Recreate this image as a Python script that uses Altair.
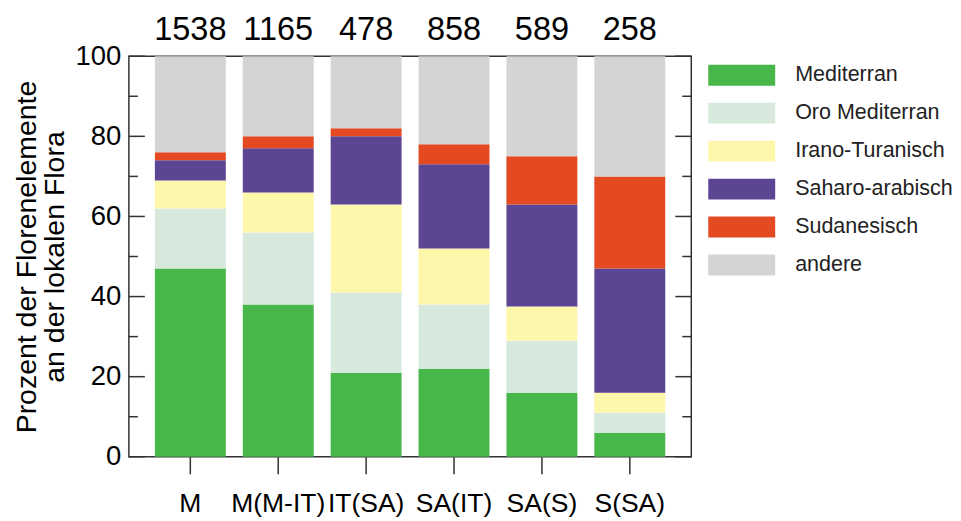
import altair as alt
import pandas as pd

# ---- data ----
groups = ["M", "M(M-IT)", "IT(SA)", "SA(IT)", "SA(S)", "S(SA)"]
counts = [1538, 1165, 478, 858, 589, 258]
elements = ["Mediterran", "Oro Mediterran", "Irano-Turanisch",
            "Saharo-arabisch", "Sudanesisch", "andere"]
colors = ["#48b74a", "#d6e9dc", "#fdf7ab", "#5c4593", "#e34a22", "#d4d4d4"]

mediterran = [47, 38, 21, 22, 16, 6]
oro_mediterran = [15, 18, 20, 16, 13, 5]
irano_turanisch = [7, 10, 22, 14, 8.5, 5]
saharo_arabisch = [5, 11, 17, 21, 25.5, 31]
sudanesisch = [2, 3, 2, 5, 12, 23]
andere = [24, 20, 18, 22, 25, 30]

y_major = [0, 20, 40, 60, 80, 100]
y_minor = [10, 30, 50, 70, 90]

series = [mediterran, oro_mediterran, irano_turanisch,
          saharo_arabisch, sudanesisch, andere]

rows = []
for k, (name, vals) in enumerate(zip(elements, series)):
    for g, v in zip(groups, vals):
        rows.append({"group": g, "element": name, "value": v, "order": k})
df = pd.DataFrame(rows)
df_counts = pd.DataFrame({"group": groups, "n": counts})
df_major = pd.DataFrame({"value": y_major})
df_minor = pd.DataFrame({"value": y_minor})
df_leg = pd.DataFrame({"element": elements})

FONT = "Liberation Sans"
W, H = 563, 401
AX = "#333333"

color_scale = alt.Scale(domain=elements, range=colors)
x_enc = alt.X(
    "group:N", sort=groups,
    scale=alt.Scale(paddingInner=0.193, paddingOuter=0.296),
    axis=alt.Axis(title=None, labelAngle=0, domain=False, ticks=True,
                  tickSize=17, tickColor=AX, tickWidth=1.5,
                  labelFontSize=26.5, labelColor="black", labelPadding=17,
                  labelFont=FONT),
)

y_axis = alt.Axis(values=y_major, ticks=False, domain=False, grid=False,
                  labelFontSize=27.5, labelColor="black", labelPadding=8,
                  labelFont=FONT,
                  title=["Prozent der Florenelemente", "an der lokalen Flora"],
                  titleFontSize=28.5, titleFontWeight="normal",
                  titleColor="black", titleFont=FONT,
                  titleLineHeight=28, titlePadding=6)
y_scale = alt.Scale(domain=[0, 100], nice=False)

bars = alt.Chart(df).mark_bar().encode(
    x=x_enc,
    y=alt.Y("value:Q", stack="zero", scale=y_scale, axis=y_axis),
    color=alt.Color("element:N", scale=color_scale, legend=None),
    order=alt.Order("order:Q", sort="ascending"),
)

top_text = alt.Chart(df_counts).mark_text(
    fontSize=32.5, dy=-26, font=FONT, color="black"
).encode(
    x=alt.X("group:N", sort=groups),
    y=alt.datum(100, scale=y_scale, axis=y_axis),
    text="n:Q",
)

def tick_layer(data, length, side):
    if side == "left":
        xa, xb = 0, length
    else:
        xa, xb = W - length, W
    return alt.Chart(data).mark_rule(color=AX, strokeWidth=1.5).encode(
        y=alt.Y("value:Q", scale=y_scale, axis=y_axis),
        x=alt.value(xa), x2=alt.value(xb),
    )

main = alt.layer(
    bars, top_text,
    tick_layer(df_major, 16, "left"), tick_layer(df_minor, 9, "left"),
    tick_layer(df_major, 16, "right"), tick_layer(df_minor, 9, "right"),
).properties(width=W, height=H,
             view=alt.ViewBackground(stroke=AX, strokeWidth=1.5))

leg_y = alt.Y("element:N", sort=elements, axis=None,
              scale=alt.Scale(paddingInner=0.45, paddingOuter=0.225))
leg_rect = alt.Chart(df_leg).mark_rect().encode(
    y=leg_y, x=alt.value(0), x2=alt.value(67),
    color=alt.Color("element:N", scale=color_scale, legend=None),
)
leg_text = alt.Chart(df_leg).mark_text(
    align="left", baseline="middle", fontSize=21.5, font=FONT, color="#222222"
).encode(y=leg_y, x=alt.value(87), text="element:N")
legend = alt.layer(leg_rect, leg_text).properties(
    width=235, height=228,
    view=alt.ViewBackground(strokeWidth=0))

chart = alt.hconcat(main, legend, spacing=15).resolve_scale(
    color="shared"
).properties(
    padding={"left": 3, "top": 5, "right": 0, "bottom": 0},
    background="white",
)

chart.save("out.html", embed_options={"renderer": "svg", "actions": False})
